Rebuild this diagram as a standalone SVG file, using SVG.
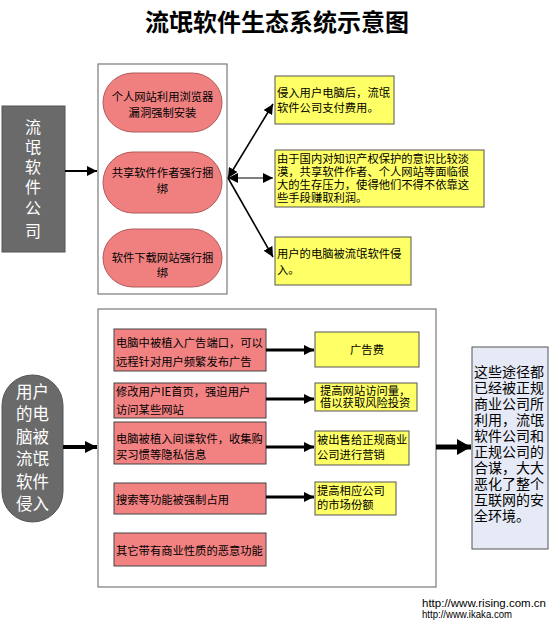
<svg xmlns="http://www.w3.org/2000/svg" width="549" height="633" viewBox="0 0 549 633">
<style>
text{font-family:"Noto Sans CJK SC","Liberation Sans",sans-serif;}
.title{font-size:24px;font-weight:bold;fill:#000;text-anchor:middle;}
.t{font-size:11.3px;fill:#000;}
.c{text-anchor:middle;}
.w{fill:#fff;text-anchor:middle;}
.frame{fill:#fff;stroke:#7a7a7a;stroke-width:1.2;}
.pill{fill:#f08080;stroke:#b05a5a;stroke-width:1;}
.red{fill:#f28282;stroke:#444;stroke-width:1;}
.yel{fill:#ffff66;stroke:#555;stroke-width:1;}
.gray{fill:#6a6a6a;stroke:#555;stroke-width:1;}
.blue{fill:#e6eaf6;stroke:#555;stroke-width:1;}
.ln{fill:none;stroke:#000;}
.url{font-family:"Liberation Sans",Arial,sans-serif;font-size:10.5px;fill:#000;}
</style>
<defs>
<marker id="ah" markerUnits="userSpaceOnUse" markerWidth="10" markerHeight="10" refX="10" refY="5" orient="auto-start-reverse">
<path d="M0,0 L10,5 L0,10 z" fill="#000"/>
</marker>
<marker id="ahb" markerUnits="userSpaceOnUse" markerWidth="12" markerHeight="12" refX="12" refY="6" orient="auto">
<path d="M0,0 L12,6 L0,12 z" fill="#000"/>
</marker>
<marker id="ahx" markerUnits="userSpaceOnUse" markerWidth="14" markerHeight="16" refX="14" refY="8" orient="auto">
<path d="M0,0 L14,8 L0,16 z" fill="#000"/>
</marker>
</defs>
<rect width="549" height="633" fill="#fff"/>
<text class="title" x="277" y="31">流氓软件生态系统示意图</text>

<g id="company">
<rect class="gray" x="2" y="106" width="63" height="146"/>
<text class="w" font-size="16"><tspan x="33" y="133">流</tspan><tspan x="33" y="153">氓</tspan><tspan x="33" y="173">软</tspan><tspan x="33" y="193">件</tspan><tspan x="33" y="214">公</tspan><tspan x="33" y="237">司</tspan></text>
</g>

<g id="frame1"><rect class="frame" x="98" y="64" width="129" height="230"/></g>

<g id="m1">
<rect class="pill" x="103" y="73" width="119" height="59" rx="30" ry="29.5"/>
<text class="t c"><tspan x="162.5" y="101">个人网站利用浏览器</tspan><tspan x="162.5" y="117">漏洞强制安装</tspan></text>
</g>
<g id="m2">
<rect class="pill" x="103" y="152" width="119" height="61" rx="30" ry="30.5"/>
<text class="t c"><tspan x="162.5" y="177">共享软件作者强行捆</tspan><tspan x="162.5" y="193">绑</tspan></text>
</g>
<g id="m3">
<rect class="pill" x="103" y="229" width="119" height="58" rx="30" ry="29"/>
<text class="t c"><tspan x="162.5" y="262">软件下载网站强行捆</tspan><tspan x="162.5" y="277">绑</tspan></text>
</g>

<g id="y1">
<rect class="yel" x="275" y="76" width="119" height="48"/>
<text class="t"><tspan x="277" y="97">侵入用户电脑后，流氓</tspan><tspan x="277" y="112">软件公司支付费用。</tspan></text>
</g>
<g id="y2">
<rect class="yel" x="275" y="150" width="209" height="57"/>
<text class="t"><tspan x="277" y="163">由于国内对知识产权保护的意识比较淡</tspan><tspan x="277" y="176">漠，共享软件作者、个人网站等面临很</tspan><tspan x="277" y="189">大的生存压力，使得他们不得不依靠这</tspan><tspan x="277" y="202">些手段赚取利润。</tspan></text>
</g>
<g id="y3">
<rect class="yel" x="275" y="237" width="136" height="48"/>
<text class="t"><tspan x="277" y="258">用户的电脑被流氓软件侵</tspan><tspan x="277" y="274">入。</tspan></text>
</g>

<g id="victim">
<rect class="gray" x="2" y="375" width="61" height="147" rx="30.5" ry="30.5"/>
<text class="w" font-size="16.5"><tspan x="32.5" y="398">用户</tspan><tspan x="32.5" y="420">的电</tspan><tspan x="32.5" y="443">脑被</tspan><tspan x="32.5" y="465">流氓</tspan><tspan x="32.5" y="488">软件</tspan><tspan x="32.5" y="510">侵入</tspan></text>
</g>

<g id="frame2"><rect class="frame" x="98" y="309" width="338" height="278"/></g>

<g id="r1">
<rect class="red" x="114" y="329" width="152" height="42"/>
<text class="t"><tspan x="116" y="347">电脑中被植入广告端口，可以</tspan><tspan x="116" y="366">远程针对用户频繁发布广告</tspan></text>
</g>
<g id="r2">
<rect class="red" x="114" y="383" width="152" height="35"/>
<text class="t"><tspan x="116" y="396">修改用户IE首页，强迫用户</tspan><tspan x="116" y="414">访问某些网站</tspan></text>
</g>
<g id="r3">
<rect class="red" x="114" y="422" width="152" height="42"/>
<text class="t"><tspan x="116" y="443">电脑被植入间谍软件，收集购</tspan><tspan x="116" y="459">买习惯等隐私信息</tspan></text>
</g>
<g id="r4">
<rect class="red" x="114" y="483" width="152" height="31"/>
<text class="t" x="116" y="504">搜索等功能被强制占用</text>
</g>
<g id="r5">
<rect class="red" x="114" y="533" width="152" height="33"/>
<text class="t" x="116" y="555">其它带有商业性质的恶意功能</text>
</g>

<g id="g1">
<rect class="yel" x="315" y="332" width="104" height="35"/>
<text class="t c" x="367" y="354">广告费</text>
</g>
<g id="g2">
<rect class="yel" x="315" y="383" width="102" height="28"/>
<text class="t" font-size="10.8"><tspan x="320" y="395">提高网站访问量，</tspan><tspan x="320" y="407">借以获取风险投资</tspan></text>
</g>
<g id="g3">
<rect class="yel" x="315" y="431" width="94" height="34"/>
<text class="t"><tspan x="317" y="444">被出售给正规商业</tspan><tspan x="317" y="459">公司进行营销</tspan></text>
</g>
<g id="g4">
<rect class="yel" x="315" y="482" width="81" height="33"/>
<text class="t"><tspan x="317" y="495">提高相应公司</tspan><tspan x="317" y="509">的市场份额</tspan></text>
</g>

<g id="result">
<rect class="blue" x="472" y="347" width="76" height="202"/>
<text font-size="14"><tspan x="474" y="377">这些途径都</tspan><tspan x="474" y="393">已经被正规</tspan><tspan x="474" y="409">商业公司所</tspan><tspan x="474" y="425">利用，流氓</tspan><tspan x="474" y="441">软件公司和</tspan><tspan x="474" y="457">正规公司的</tspan><tspan x="474" y="473">合谋，大大</tspan><tspan x="474" y="489">恶化了整个</tspan><tspan x="474" y="505">互联网的安</tspan><tspan x="474" y="521">全环境。</tspan></text>
</g>

<g id="connectors">
<line class="ln" x1="65" y1="171" x2="97" y2="171" stroke-width="2" marker-end="url(#ah)"/>
<line class="ln" x1="228" y1="178" x2="273" y2="104" stroke-width="1.6" marker-start="url(#ah)" marker-end="url(#ah)"/>
<line class="ln" x1="228" y1="178" x2="273" y2="178" stroke-width="1" marker-start="url(#ah)" marker-end="url(#ah)"/>
<line class="ln" x1="228" y1="178" x2="273" y2="257" stroke-width="1.6" marker-end="url(#ah)"/>
<line class="ln" x1="63" y1="447" x2="97" y2="447" stroke-width="4" marker-end="url(#ahb)"/>
<line class="ln" x1="266" y1="350" x2="314" y2="350" stroke-width="3" marker-end="url(#ah)"/>
<line class="ln" x1="266" y1="399" x2="314" y2="399" stroke-width="3" marker-end="url(#ah)"/>
<line class="ln" x1="266" y1="447" x2="314" y2="447" stroke-width="3" marker-end="url(#ah)"/>
<line class="ln" x1="266" y1="497" x2="314" y2="497" stroke-width="3" marker-end="url(#ah)"/>
<line class="ln" x1="436" y1="447" x2="471" y2="447" stroke-width="5" marker-end="url(#ahx)"/>
</g>

<g id="urls">
<text class="url" x="422" y="607" textLength="124" lengthAdjust="spacingAndGlyphs">http://www.rising.com.cn</text>
<text class="url" x="422" y="618" textLength="90" lengthAdjust="spacingAndGlyphs">http://www.ikaka.com</text>
</g>
</svg>
